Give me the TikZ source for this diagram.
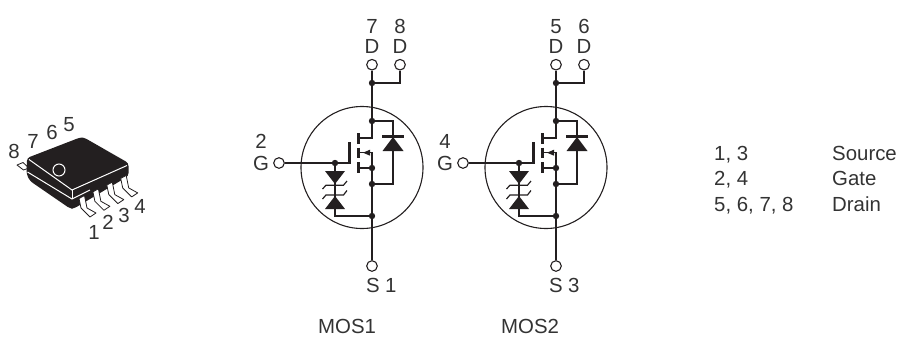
\documentclass[tikz,border=0pt]{standalone}
\usepackage{fontspec}
\setmainfont{Liberation Sans}
\definecolor{ink}{HTML}{231F20}
\definecolor{txt}{HTML}{333333}
\tikzset{
  wire/.style={draw=ink,line width=1.2pt,line join=miter},
  thick bar/.style={draw=ink,line width=3pt},
  pin/.style={circle,draw=ink,fill=white,line width=1.1pt,minimum size=10.6pt,inner sep=0pt},
  junction/.style={circle,fill=ink,draw=none,minimum size=6.4pt,inner sep=0pt},
  solid tri/.style={fill=ink,draw=none},
  label/.style={inner sep=0pt,text=txt,font=\fontsize{20.4pt}{20.4pt}\selectfont},
  lab c/.style={label,anchor=base},
  lab w/.style={label,anchor=base west},
  pkg/.style={inner sep=0pt,text=txt,font=\fontsize{20.4pt}{20.4pt}\selectfont,anchor=center},
  whiteln/.style={draw=white,line width=1pt},
  leadshape/.style={draw=ink,fill=white,line width=0.8pt,line join=round},
}
\newcommand{\mosunit}[3]{%
\begin{scope}[shift={(#1,0)},name prefix=#2-]
  \node[circle,draw=ink,line width=1.1pt,minimum size=122pt,inner sep=0pt] (ring) at (362,167.5) {};
  \node[pin] (d1) at (372,64.7) {};
  \node[pin] (d2) at (400,64.7) {};
  \node[pin] (g) at (#3,163) {};
  \node[pin] (s) at (372,266) {};
  \node[junction] (j1) at (372,83) {};
  \node[junction] (j2) at (372,121) {};
  \node[junction] (j3) at (372,168) {};
  \node[junction] (j4) at (372,184) {};
  \node[junction] (j5) at (372,216) {};
  \node[junction] (jg) at (335,163) {};
  \coordinate (chT) at (358,138);
  \coordinate (chM) at (358,152.7);
  \coordinate (chB) at (358,168);
  \coordinate (plate) at (349,163);
  \coordinate (db) at (393,136);
  \coordinate (zb) at (335,216);
  \draw[wire] (d1) -- (j1) -- (j2) |- (chT);
  \draw[wire] (d2) |- (j1);
  \draw[wire] (j2) -| (db) -- (393,184) -- (j4);
  \draw[wire] (chM) -- (372,152.7) -- (j3) -- (j4) -- (j5) -- (s);
  \draw[wire] (chB) -- (j3);
  \draw[wire] (g) -- (jg) -- (plate);
  \draw[wire] (jg) -- (zb) -- (j5);
  \draw[thick bar] (358,133) -- (358,144);
  \draw[thick bar] (358,147.5) -- (358,157.5);
  \draw[thick bar] (358,162) -- (358,173);
  \draw[thick bar] (349,142) -- (349,164);
  \draw[thick bar] (382,136) -- (404,136);
  \fill[solid tri] (393,137) -- (403.5,151) -- (382.5,151) -- cycle;
  \fill[solid tri] (363,152.7) -- (370,149.7) -- (370,155.7) -- cycle;
  \fill[solid tri] (325,171) -- (345,171) -- (335,184) -- cycle;
  \fill[solid tri] (325,209) -- (345,209) -- (335,196) -- cycle;
  \draw[wire] (322.5,189) -- (326,185.2) -- (343.5,185.2) -- (347,181);
  \draw[wire] (322.5,199) -- (326,195) -- (343.5,195) -- (347,190.5);
\end{scope}}
\begin{document}
\begin{tikzpicture}[x=1pt,y=-1pt]
\useasboundingbox (0,0) rectangle (900,338);
% package
\draw[leadshape] (17,165) -- (23,162.5) -- (29,168) -- (23.5,170) -- cycle;
\fill[ink,rounded corners=3pt] (27,158) -- (80,137.5) -- (84,137.5) -- (128.5,163) -- (128.5,176) -- (74,208.5) -- (70,208.5) -- (30,181) -- (26.5,174) -- cycle;
\draw[whiteln] (29,159.5) -- (72,190) -- (127,165.5);
\draw[whiteln] (27.5,172) -- (72,199) -- (90,190);
\draw[whiteln] (72,190) -- (72,199);
\node[circle,draw=white,line width=1pt,minimum size=12pt,inner sep=0pt] (dot) at (59,170) {};
\foreach \i in {0,1,2,3}{
  \begin{scope}[shift={(13.9*\i,-6.7*\i)}]
    \draw[leadshape] (79,198.5) -- (84.5,195.5) -- (87,208) -- (96,213) -- (90,217) -- (81,208) -- cycle;
  \end{scope}
}
\node[pkg] (p8) at (14,151) {8};
\node[pkg] (p7) at (33,141) {7};
\node[pkg] (p6) at (52,132) {6};
\node[pkg] (p5) at (69,125) {5};
\node[pkg] (p1) at (94,232) {1};
\node[pkg] (p2) at (108,222) {2};
\node[pkg] (p3) at (124,215) {3};
\node[pkg] (p4) at (140,206) {4};
% transistors
\mosunit{0}{a}{279}
\mosunit{184}{b}{279}
% left labels
\node[lab c] (t7) at (372,33) {7};
\node[lab c] (tD7) at (372,53) {D};
\node[lab c] (t8) at (400,33) {8};
\node[lab c] (tD8) at (400,53) {D};
\node[lab c] (t2) at (261,148) {2};
\node[lab c] (tG2) at (261,170) {G};
\node[lab w] (tS1) at (366,292) {S};
\node[lab w] (t1) at (385,292) {1};
\node[lab w] (tM1) at (318,333.5) {MOS1};
% right labels
\node[lab c] (t5) at (556,33) {5};
\node[lab c] (tD5) at (556,53) {D};
\node[lab c] (t6) at (584,33) {6};
\node[lab c] (tD6) at (584,53) {D};
\node[lab c] (t4) at (445,148) {4};
\node[lab c] (tG4) at (445,170) {G};
\node[lab w] (tS3) at (549,292) {S};
\node[lab w] (t3) at (568,292) {3};
\node[lab w] (tM2) at (501,333.5) {MOS2};
% table
\node[lab w] (k1) at (714,160) {1, 3};
\node[lab w] (k2) at (714,185) {2, 4};
\node[lab w] (k3) at (714,211) {5, 6, 7, 8};
\node[lab w] (v1) at (832,160) {Source};
\node[lab w] (v2) at (832,185) {Gate};
\node[lab w] (v3) at (832,211) {Drain};
\end{tikzpicture}
\end{document}
